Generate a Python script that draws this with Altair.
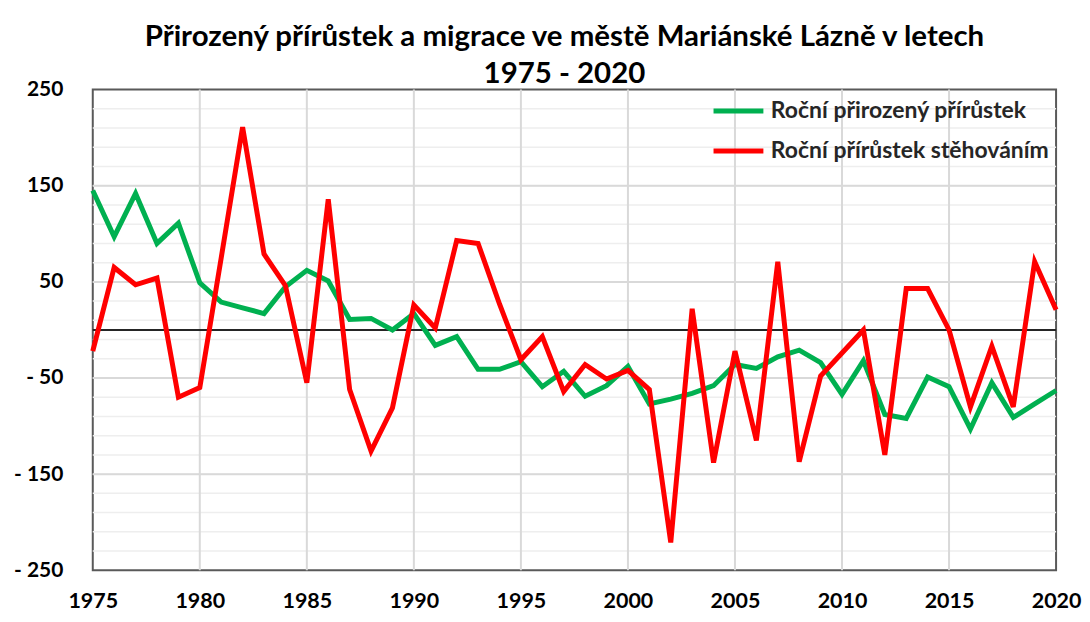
import altair as alt
import pandas as pd

years = list(range(1975, 2021))
natural = [145, 97, 142, 90, 111, 49, 29, 23, 17, 45,
           62, 51, 11, 12, 0, 17, -16, -7, -41, -41,
           -33, -59, -43, -69, -58, -38, -77, -72, -66, -58,
           -36, -40, -28, -21, -34, -67, -32, -88, -92, -49,
           -59, -103, -55, -91, -77, -63]
migration = [-22, 65, 47, 54, -70, -60, 75, 211, 79, 46,
             -55, 136, -62, -126, -81, 26, 2, 93, 90, 27,
             -31, -7, -64, -36, -51, -42, -62, -221, 22, -138,
             -22, -115, 71, -137, -48, -24, 0, -130, 43, 43,
             0, -80, -17, -80, 71, 21]
series_names = ["Roční přirozený přírůstek", "Roční přírůstek stěhováním"]
series_colors = ["#00B050", "#FF0000"]
y_label_values = [250, 150, 50, -50, -150, -250]
y_major_grid = [150, 50, -50, -150]
y_minor_grid = list(range(-230, 250, 20))
x_ticks = list(range(1975, 2021, 5))

FONT = "Lato"

df = pd.DataFrame({
    "year": years * 2,
    "value": natural + migration,
    "series": [series_names[0]] * len(years) + [series_names[1]] * len(years),
})

xscale = alt.Scale(domain=[1975, 2020], nice=False, zero=False)
yscale = alt.Scale(domain=[-250, 250], nice=False)

xaxis = alt.Axis(values=x_ticks, format="d", grid=False, ticks=False,
                 domain=False, labelFont=FONT, labelFontSize=21.5,
                 labelFontWeight="bold", labelColor="#000000",
                 labelPadding=20, labelOverlap=False, labelFlush=False, title=None)
yaxis = alt.Axis(values=y_label_values, grid=False, ticks=False,
                 domain=False, labelFont=FONT, labelFontSize=21,
                 labelFontWeight="bold", labelColor="#000000",
                 labelPadding=30, labelOverlap=False, labelFlush=False, title=None,
                 labelExpr="datum.value < 0 ? '- ' + abs(datum.value) : datum.value")

lines = alt.Chart(df).mark_line(strokeWidth=5, strokeJoin="miter").encode(
    x=alt.X("year:Q", scale=xscale, axis=xaxis),
    y=alt.Y("value:Q", scale=yscale, axis=yaxis),
    color=alt.Color("series:N",
                    scale=alt.Scale(domain=series_names, range=series_colors),
                    sort=series_names,
                    legend=alt.Legend(title=None, orient="none", legendX=620, legendY=-6,
                                      symbolType="stroke", symbolSize=2500,
                                      symbolStrokeWidth=5, labelFont=FONT,
                                      labelFontSize=23, labelFontWeight="bold",
                                      labelColor="#262626", labelOffset=5,
                                      rowPadding=-2, labelLimit=500)),
    order=alt.Order("year:Q"),
)

minor = alt.Chart(pd.DataFrame({"v": y_minor_grid})).mark_rule(
    color="#eeeeee", strokeWidth=1.5
).encode(y=alt.Y("v:Q", scale=yscale, axis=yaxis))

major = alt.Chart(pd.DataFrame({"v": y_major_grid})).mark_rule(
    color="#d9d9d9", strokeWidth=2
).encode(y=alt.Y("v:Q", scale=yscale, axis=yaxis))

vgrid = alt.Chart(pd.DataFrame({"x": x_ticks[1:-1]})).mark_rule(
    color="#d9d9d9", strokeWidth=2
).encode(x=alt.X("x:Q", scale=xscale, axis=xaxis))

zero = alt.Chart(pd.DataFrame({"v": [0]})).mark_rule(
    color="#262626", strokeWidth=2
).encode(y=alt.Y("v:Q", scale=yscale, axis=yaxis))

chart = alt.layer(minor, major, vgrid, zero, lines).properties(
    width=966,
    height=482,
    background="white",
    autosize=alt.AutoSizeParams(type="none"),
    padding={"left": 85, "top": 81, "right": 26, "bottom": 43},
    title=alt.TitleParams(
        text=["Přirozený přírůstek a migrace ve městě Mariánské Lázně v letech", "1975 - 2020"],
        font=FONT, fontSize=29.5, fontWeight="bold", color="#000000",
        anchor="middle", lineHeight=37, offset=-40, dx=-10, baseline="bottom",
    ),
).configure_view(stroke="#595959", strokeWidth=2)

chart.save("out.html", embed_options={"renderer": "svg", "actions": False})
